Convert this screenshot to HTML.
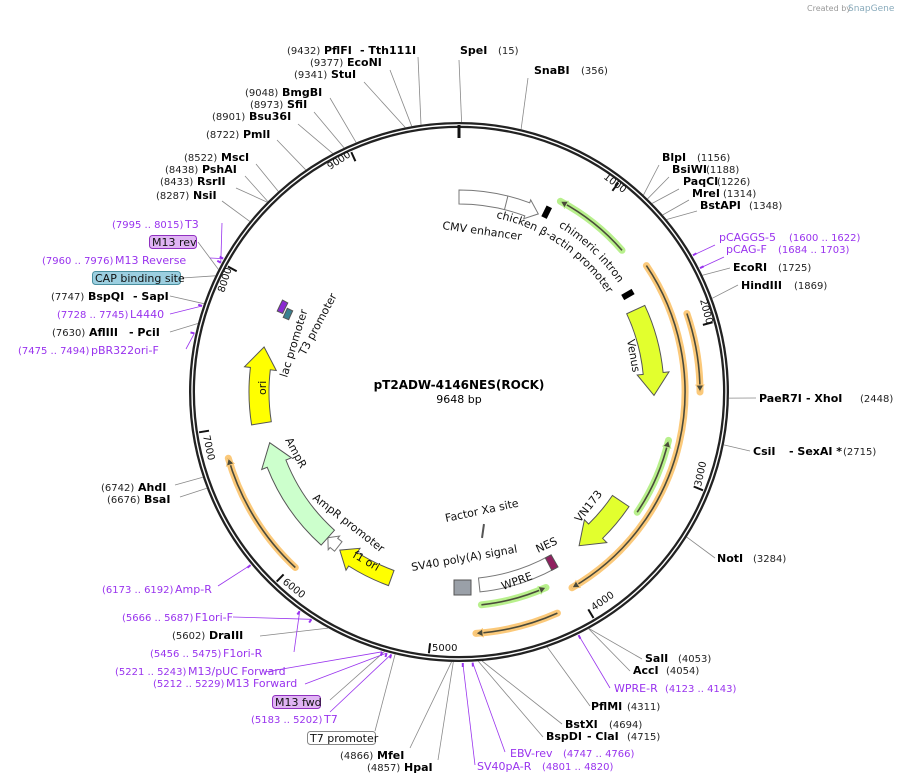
<!DOCTYPE html>
<html><head><meta charset="utf-8"><style>
body{margin:0;background:#fff}
svg{display:block;font-family:"DejaVu Sans","Liberation Sans",sans-serif}
.n{font-size:10px;fill:#222}
.b{font-size:11px;font-weight:bold;fill:#000}
.p{font-size:11px;fill:#9933ee}
.pn{font-size:10px;fill:#9933ee}
.f{font-size:11px;fill:#111}
.t{font-size:11px;fill:#111}
</style></head><body>
<svg id="s" width="904" height="784" viewBox="0 0 904 784" xmlns="http://www.w3.org/2000/svg">
<text x="807" y="11" style="font-size:8px;fill:#999">Created by</text><text x="848" y="11" style="font-size:9px;fill:#8ab">SnapGene</text>
<g id="lines" stroke="#888" stroke-width="0.8" fill="none"></g>
<g id="feat"></g>
<circle cx="459" cy="392" r="267" fill="none" stroke="#222" stroke-width="6"/>
<circle cx="459" cy="392" r="267" fill="none" stroke="#fff" stroke-width="1.4"/>
<rect x="457.5" y="125" width="3" height="13" fill="#111"/>
<g id="ticks" stroke="#111" stroke-width="2"></g>
<defs>
<path id="tp1" d=""/><path id="tp2" d=""/>
</defs>
<text class="t"><textPath href="#tp1">chicken β-actin promoter</textPath></text>
<text class="t"><textPath href="#tp2">chimeric intron</textPath></text>
<text x="442" y="229" class="t" transform="rotate(8 442 229)">CMV enhancer</text>
<text x="627" y="340" class="t" transform="rotate(80 627 340)">Venus</text>
<text x="580" y="523" class="t" transform="rotate(-52 580 523)">VN173</text>
<text x="446" y="522" class="t" transform="rotate(-12 446 522)">Factor Xa site</text>
<rect x="482" y="524" width="2" height="14" fill="#555" transform="rotate(8 483 531)"/>
<text x="538" y="553" class="t" transform="rotate(-25 538 553)">NES</text>
<text x="503" y="590" class="t" transform="rotate(-20 503 590)">WPRE</text>
<text x="412" y="571" class="t" transform="rotate(-10 412 571)">SV40 poly(A) signal</text>
<rect x="454" y="580" width="17" height="15" fill="#9aa0a8" stroke="#555" stroke-width="1"/>
<text x="352" y="557" class="t" transform="rotate(30 352 557)">f1 ori</text>
<text x="312" y="499" class="t" transform="rotate(38 312 499)">AmpR promoter</text>
<text x="285" y="440" class="t" transform="rotate(62 285 440)">AmpR</text>
<text x="266" y="395" class="t" transform="rotate(-90 266 395)">ori</text>
<text x="287" y="378" class="t" transform="rotate(-73 287 378)">lac promoter</text>
<text x="305" y="356" class="t" transform="rotate(-62 305 356)">T3 promoter</text>
<text x="459" y="389" text-anchor="middle" style="font-size:12px;font-weight:bold">pT2ADW-4146NES(ROCK)</text>
<text x="459" y="403" text-anchor="middle" style="font-size:11px">9648 bp</text>
<g style="font-size:10px" fill="#111">
<text x="603" y="178" transform="rotate(37 603 178)">1000</text>
<text x="700" y="300" transform="rotate(75 700 300)">2000</text>
<text x="701" y="487" transform="rotate(-78 701 487)">3000</text>
<text x="594" y="611" transform="rotate(-35 594 611)">4000</text>
<text x="432" y="651">5000</text>
<text x="282" y="583" transform="rotate(38 282 583)">6000</text>
<text x="203" y="436" transform="rotate(78 203 436)">7000</text>
<text x="224" y="293" transform="rotate(-72 224 293)">8000</text>
<text x="330" y="170" transform="rotate(-33 330 170)">9000</text>
</g>
<text x="287" y="54" class="n">(9432)</text><text x="324" y="54" class="b">PflFI</text><text x="360" y="54" class="b">- Tth111I</text>
<text x="310" y="66" class="n">(9377)</text><text x="347" y="66" class="b">EcoNI</text>
<text x="294" y="78" class="n">(9341)</text><text x="331" y="78" class="b">StuI</text>
<text x="245" y="96" class="n">(9048)</text><text x="282" y="96" class="b">BmgBI</text>
<text x="250" y="108" class="n">(8973)</text><text x="287" y="108" class="b">SfiI</text>
<text x="212" y="120" class="n">(8901)</text><text x="249" y="120" class="b">Bsu36I</text>
<text x="206" y="138" class="n">(8722)</text><text x="243" y="138" class="b">PmlI</text>
<text x="184" y="161" class="n">(8522)</text><text x="221" y="161" class="b">MscI</text>
<text x="165" y="173" class="n">(8438)</text><text x="202" y="173" class="b">PshAI</text>
<text x="160" y="185" class="n">(8433)</text><text x="197" y="185" class="b">RsrII</text>
<text x="156" y="199" class="n">(8287)</text><text x="193" y="199" class="b">NsiI</text>
<text x="112" y="228" class="pn">(7995 .. 8015)</text><text x="185" y="228" class="p">T3</text>
<rect x="149.5" y="235.5" width="47" height="13" rx="3" fill="#e0b4f4" stroke="#9030c0"/><text x="152" y="246" class="f">M13 rev</text>
<text x="42" y="264" class="pn">(7960 .. 7976)</text><text x="115" y="264" class="p">M13 Reverse</text>
<rect x="92.5" y="271.5" width="88" height="13" rx="3" fill="#9ccfe0" stroke="#4a90a0"/><text x="95" y="282" class="f">CAP binding site</text>
<text x="51" y="300" class="n">(7747)</text><text x="88" y="300" class="b">BspQI</text><text x="133" y="300" class="b">- SapI</text>
<text x="57" y="318" class="pn">(7728 .. 7745)</text><text x="130" y="318" class="p">L4440</text>
<text x="52" y="336" class="n">(7630)</text><text x="89" y="336" class="b">AflIII</text><text x="129" y="336" class="b">- PciI</text>
<text x="18" y="354" class="pn">(7475 .. 7494)</text><text x="91" y="354" class="p">pBR322ori-F</text>
<text x="101" y="491" class="n">(6742)</text><text x="138" y="491" class="b">AhdI</text>
<text x="107" y="503" class="n">(6676)</text><text x="144" y="503" class="b">BsaI</text>
<text x="102" y="593" class="pn">(6173 .. 6192)</text><text x="175" y="593" class="p">Amp-R</text>
<text x="122" y="621" class="pn">(5666 .. 5687)</text><text x="195" y="621" class="p">F1ori-F</text>
<text x="172" y="639" class="n">(5602)</text><text x="209" y="639" class="b">DraIII</text>
<text x="150" y="657" class="pn">(5456 .. 5475)</text><text x="223" y="657" class="p">F1ori-R</text>
<text x="115" y="675" class="pn">(5221 .. 5243)</text><text x="188" y="675" class="p">M13/pUC Forward</text>
<text x="153" y="687" class="pn">(5212 .. 5229)</text><text x="226" y="687" class="p">M13 Forward</text>
<rect x="272.5" y="695.5" width="48" height="13" rx="3" fill="#e0b4f4" stroke="#9030c0"/><text x="275" y="706" class="f">M13 fwd</text>
<text x="251" y="723" class="pn">(5183 .. 5202)</text><text x="324" y="723" class="p">T7</text>
<rect x="307.5" y="731.5" width="68" height="13" rx="3" fill="#fff" stroke="#888"/><text x="310" y="742" class="f">T7 promoter</text>
<text x="340" y="759" class="n">(4866)</text><text x="377" y="759" class="b">MfeI</text>
<text x="367" y="771" class="n">(4857)</text><text x="404" y="771" class="b">HpaI</text>
<text x="460" y="54" class="b">SpeI</text><text x="498" y="54" class="n">(15)</text>
<text x="534" y="74" class="b">SnaBI</text><text x="581" y="74" class="n">(356)</text>
<text x="662" y="161" class="b">BlpI</text><text x="697" y="161" class="n">(1156)</text>
<text x="672" y="173" class="b">BsiWI</text><text x="706" y="173" class="n">(1188)</text>
<text x="683" y="185" class="b">PaqCI</text><text x="717" y="185" class="n">(1226)</text>
<text x="692" y="197" class="b">MreI</text><text x="723" y="197" class="n">(1314)</text>
<text x="700" y="209" class="b">BstAPI</text><text x="749" y="209" class="n">(1348)</text>
<text x="719" y="241" class="p">pCAGGS-5</text><text x="789" y="241" class="pn">(1600 .. 1622)</text>
<text x="726" y="253" class="p">pCAG-F</text><text x="778" y="253" class="pn">(1684 .. 1703)</text>
<text x="733" y="271" class="b">EcoRI</text><text x="778" y="271" class="n">(1725)</text>
<text x="741" y="289" class="b">HindIII</text><text x="794" y="289" class="n">(1869)</text>
<text x="759" y="402" class="b">PaeR7I</text><text x="806" y="402" class="b">- XhoI</text><text x="860" y="402" class="n">(2448)</text>
<text x="753" y="455" class="b">CsiI</text><text x="789" y="455" class="b">- SexAI *</text><text x="843" y="455" class="n">(2715)</text>
<text x="717" y="562" class="b">NotI</text><text x="753" y="562" class="n">(3284)</text>
<text x="645" y="662" class="b">SalI</text><text x="678" y="662" class="n">(4053)</text>
<text x="633" y="674" class="b">AccI</text><text x="666" y="674" class="n">(4054)</text>
<text x="614" y="692" class="p">WPRE-R</text><text x="665" y="692" class="pn">(4123 .. 4143)</text>
<text x="591" y="710" class="b">PflMI</text><text x="627" y="710" class="n">(4311)</text>
<text x="565" y="728" class="b">BstXI</text><text x="609" y="728" class="n">(4694)</text>
<text x="546" y="740" class="b">BspDI</text><text x="587" y="740" class="b">- ClaI</text><text x="627" y="740" class="n">(4715)</text>
<text x="510" y="757" class="p">EBV-rev</text><text x="563" y="757" class="pn">(4747 .. 4766)</text>
<text x="477" y="770" class="p">SV40pA-R</text><text x="542" y="770" class="pn">(4801 .. 4820)</text>
</svg>
<script>
(function(){
var NS="http://www.w3.org/2000/svg",C=[459,392];
function P(a,r){var t=a*Math.PI/180;return [C[0]+r*Math.sin(t),C[1]-r*Math.cos(t)];}
function f(p){return p[0].toFixed(1)+","+p[1].toFixed(1);}
function arc(a1,a2,r,move){var p1=P(a1,r),p2=P(a2,r),lg=Math.abs(a2-a1)>180?1:0,sw=a2>a1?1:0;return (move?"M"+f(p1):"L"+f(p1))+" A"+r+","+r+" 0 "+lg+","+sw+" "+f(p2);}
function el(g,tag,at){var e=document.createElementNS(NS,tag);for(var k in at)e.setAttribute(k,at[k]);document.getElementById(g).appendChild(e);return e;}
function box(a1,a2,r,w,fill,stroke,dir,hl,hw){
 var ro=r+w/2,ri=r-w/2,hd=(hl||14)/r*180/Math.PI;hw=hw||5;var d;
 if(dir==1){var b=a2-hd;d=arc(a1,b,ro,1)+" L"+f(P(b,ro+hw))+" L"+f(P(a2,r))+" L"+f(P(b,ri-hw))+" "+arc(b,a1,ri,0)+"Z";}
 else if(dir==-1){var b=a1+hd;d="M"+f(P(a1,r))+" L"+f(P(b,ro+hw))+" "+arc(b,a2,ro,0)+" "+arc(a2,b,ri,0)+" L"+f(P(b,ri-hw))+"Z";}
 else d=arc(a1,a2,ro,1)+" "+arc(a2,a1,ri,0)+"Z";
 el("feat","path",{d:d,fill:fill,stroke:stroke,"stroke-width":1});}
function line(a1,a2,r,glow,dir){
 el("feat","path",{d:arc(a1,a2,r,1),fill:"none",stroke:glow,"stroke-width":7,"stroke-linecap":"round"});
 el("feat","path",{d:arc(a1,a2,r,1),fill:"none",stroke:"#4a4a3a","stroke-width":1.6});
 var t=dir==1?a2:a1,hd=7/r*180/Math.PI,b=dir==1?a2-hd:a1+hd;
 el("feat","path",{d:"M"+f(P(b,r+4))+" L"+f(P(t,r))+" L"+f(P(b,r-4))+"Z",fill:"#4a4a3a",stroke:glow,"stroke-width":1});}
line(56,150,226,"#fbc97a",1);
line(71,90,241,"#fbc97a",1);
line(223,254,240,"#fbc97a",1);
line(156,176,242,"#fbc97a",1);
line(28,49,216,"#b8f08c",-1);
line(103,124,215,"#b8f08c",-1);
line(156,174,214,"#b8f08c",-1);
box(0,24,195,14,"#fff","#777",1,12,3);
el("feat","path",{d:"M"+f(P(14,188))+" L"+f(P(14,202)),stroke:"#777"});
box(65,91,195,20,"#e2ff2e","#555",1,22,6);
box(124,142,195,20,"#e2ff2e","#555",1,22,6);
box(151,174,194,14,"#fff","#777",0);
box(200,217,198,16,"#ffff00","#555",1,16,5);
box(218,222,196,12,"#fff","#777",1,8,3);
box(222,255,196,20,"#ccffcc","#555",1,22,6);
box(261,283,200,20,"#ffff00","#555",1,22,6);
box(150.5,152.5,194,14,"#902060","#555",0);
box(294,297.5,196,6,"#8a2bd0","#555",0);
box(293,296,188,6,"#3a8090","#555",0);
[[26,200],[60,195]].forEach(function(m){el("feat","path",{d:"M"+f(P(m[0],m[1]-6))+" L"+f(P(m[0],m[1]+6)),stroke:"#000","stroke-width":6});});
document.getElementById("tp1").setAttribute("d",arc(12,70,178,1));
document.getElementById("tp2").setAttribute("d",arc(31,70,193,1));
for(var k=1;k<10;k++){var a=k*1000/9648*360;el("ticks","path",{d:"M"+f(P(a,263))+" L"+f(P(a,253))});}
var L=[[351.9,418,57],[349.9,390,70],[348.5,364,82],[337.6,330,98],[334.8,314,112],[332.1,298,124],[325.4,277,140],[318,256,164],[314.9,245,176],[314.7,236,188],[309.2,222,201],
[0.56,459,60],[13.3,528,78],[43.1,659,165],[44.3,669,177],[45.7,679,189],[49,689,200],[50.3,697,211],[64.4,730,268],[69.7,738,285],[91.3,756,398],[101.3,750,451],[122.5,715,558],
[151.2,642,659],[151.3,630,671],[160.9,590,706],[175.1,562,724],[175.9,543,737],[181.6,410,748],[181.2,438,760],[193.7,375,731],
[251.6,175,485],[249.1,180,497],[209,260,636],[284.7,170,332],[289.1,170,296],[295.5,182,278],[297,198,242],[196,330,700]];
L.forEach(function(l){var p=P(l[0],270);el("lines","path",{d:"M"+f(p)+" L"+l[1]+","+l[2]});});
var PR=[[59.7,715,245],[62.8,724,257],[153.8,610,688],[177.1,505,752],[179.2,475,765],[230.3,218,586],[213,233,617],[216,294,652],[196.5,265,672],[195.5,305,684],[194.5,330,712],[298.5,222,223],[299.5,210,258],[288.5,170,314],[282.5,186,349]];
PR.forEach(function(l){var p=P(l[0],271);el("lines","path",{d:"M"+f(p)+" L"+l[1]+","+l[2],stroke:"#9933ee"});
 var q=P(l[0],275);el("lines","path",{d:"M"+f(p)+" L"+f(q),stroke:"#9933ee","stroke-width":2});});
})();
</script>
</body></html>
